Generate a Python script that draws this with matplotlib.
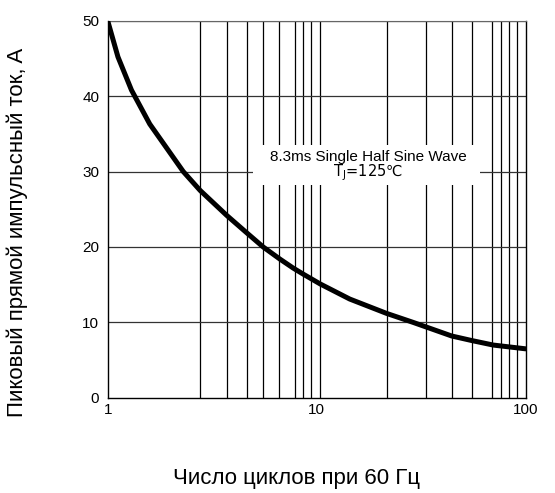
import matplotlib
matplotlib.use("Agg")
import matplotlib.pyplot as plt
from matplotlib.patches import Rectangle

plt.rcParams['font.family'] = ['Liberation Sans', 'DejaVu Sans']

# curve: number of cycles vs peak forward surge current
cycles = [1.0, 1.12, 1.3, 1.59, 2.3, 2.77, 3.71, 4.62, 5.55, 6.67,
          7.73, 8.63, 10.4, 14.4, 21.6, 29.0, 44.3, 55.2, 70.0, 100.0]
current = [50.0, 45.2, 40.8, 36.3, 30.0, 27.5, 24.2, 21.9, 20.0, 18.4,
           17.2, 16.4, 15.1, 13.1, 11.2, 10.0, 8.2, 7.6, 7.0, 6.5]

x_ticks = [1, 10, 100]
x_ticklabels = ['1', '10', '100']
y_ticks = [0, 10, 20, 30, 40, 50]
# vertical grid lines as drawn in the original (slightly off true log spacing)
x_grid = [2.77, 3.71, 4.62, 5.52, 6.6, 7.87, 8.6, 9.4, 10.4,
          21.6, 33.2, 44.3, 55.5, 69.4, 76.5, 83.7, 90.9]

fig = plt.figure(figsize=(5.55, 4.93), dpi=100)
ax = fig.add_axes([0.194, 0.193, 0.753, 0.765])

ax.set_xscale('log')
ax.set_xlim(1, 100)
ax.set_ylim(0, 50)

for g in x_grid:
    ax.axvline(g, color='black', lw=0.9, zorder=1)
for v in y_ticks[1:]:
    ax.axhline(v, color='#333333', lw=0.9, zorder=1)

ax.plot(cycles, current, color='black', lw=3.6, solid_capstyle='round',
        solid_joinstyle='round', zorder=4)

# white box behind the note
ax.add_patch(Rectangle((0.3476, 0.5645), 0.543, 0.106, transform=ax.transAxes,
                       facecolor='white', edgecolor='none', zorder=2))
ax.text(0.6227, 0.6395, '8.3ms Single Half Sine Wave', transform=ax.transAxes,
        ha='center', va='center', fontsize=11, zorder=3)
ax.text(0.6227, 0.597, 'T$_\\mathregular{J}$=125℃', transform=ax.transAxes,
        ha='center', va='center', fontsize=10.5, family='DejaVu Sans', zorder=3)

ax.set_xticks(x_ticks)
ax.set_xticklabels(x_ticklabels)
ax.xaxis.set_minor_locator(matplotlib.ticker.NullLocator())
ax.set_yticks(y_ticks)
ax.tick_params(length=0, labelsize=11)
ax.tick_params(axis='x', pad=4)
ax.tick_params(axis='y', pad=6)

for side in ['left', 'bottom', 'right']:
    ax.spines[side].set_linewidth(1.0)
    ax.spines[side].set_color('black')
ax.spines['top'].set_color('#666666')

ax.set_xlabel('Число циклов при 60 Гц', fontsize=16)
ax.set_ylabel('Пиковый прямой импульсный ток, A', fontsize=16)
ax.xaxis.set_label_coords(0.453, -0.185)
ax.yaxis.set_label_coords(-0.19, 0.44)

fig.savefig('out.png', dpi=100)
